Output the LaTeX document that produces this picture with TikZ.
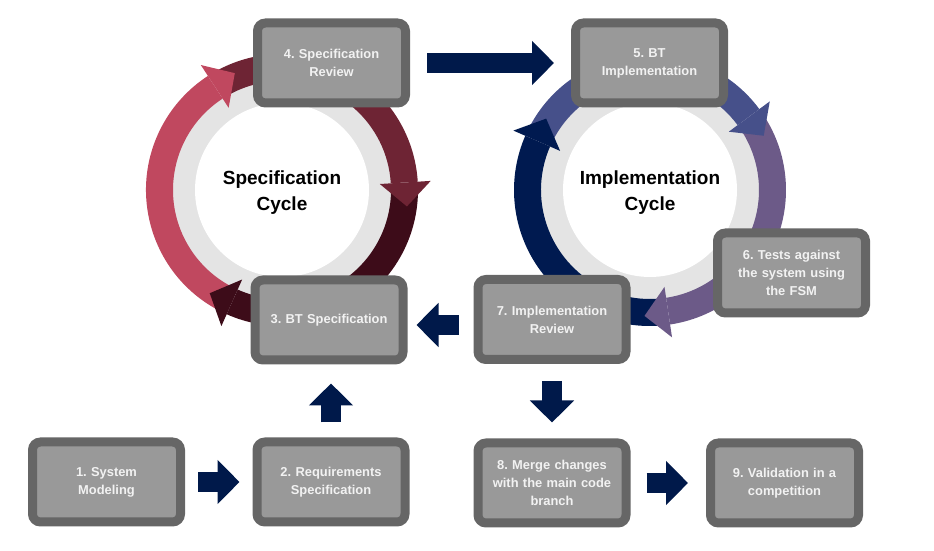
\documentclass[tikz,border=0pt]{standalone}
\usepackage{fontspec}
\setmainfont{Liberation Sans}
\usetikzlibrary{arrows.meta,calc}
\definecolor{pinkA}{HTML}{C0485F}
\definecolor{redA}{HTML}{6E2434}
\definecolor{darkA}{HTML}{3D0C19}
\definecolor{blueB}{HTML}{46508A}
\definecolor{purpB}{HTML}{6C5A88}
\definecolor{navyB}{HTML}{001A50}
\definecolor{navyArrow}{HTML}{00194A}
\definecolor{boxBorder}{HTML}{666666}
\definecolor{boxFill}{HTML}{999999}
\definecolor{boxText}{HTML}{F2F2F2}
\definecolor{ringGray}{HTML}{E4E4E4}
\newcommand{\ringseg}[4]{\fill[#2, shift={(#1)}] (#3:136pt) arc[start angle=#3, end angle=#4, radius=136pt] -- (#4:109pt) arc[start angle=#4, end angle=#3, radius=109pt] -- cycle;}
\newcommand{\ringhead}[4]{\fill[#2, shift={(#1)}] (#3:98pt) -- (#3:149pt) -- (#4:126pt) -- cycle;}
\tikzset{
  stepbox/.style={draw=boxBorder, line width=9pt, fill=boxFill, rounded corners=8pt,
    minimum width=148pt, minimum height=80pt, text width=140pt, inner sep=0pt,
    align=center, text=boxText, font=\fontsize{12.9}{18}\selectfont\bfseries\frenchspacing},
  cyclelabel/.style={align=center, text=black, font=\fontsize{19}{26}\selectfont\bfseries},
  blockarrow/.style={draw=navyArrow, line width=20pt, -{Triangle[length=22pt,width=43pt]}}
}
\begin{document}
\begin{tikzpicture}[x=1pt,y=1pt]
\useasboundingbox (0,0) rectangle (934,551);
\coordinate (L) at (282,361);
\coordinate (R) at (650,361);
% rings
\foreach \c in {L,R}{
  \fill[ringGray] (\c) circle[radius=112pt];
  \fill[white] (\c) circle[radius=87pt];
}
% left cycle bands
\ringseg{L}{pinkA}{242}{123}
\ringseg{L}{redA}{119}{3.5}
\ringseg{L}{darkA}{0}{-114}
% right cycle bands
\ringseg{R}{blueB}{153}{36.5}
\ringseg{R}{purpB}{33}{-81.5}
\ringseg{R}{navyB}{-85}{-203.5}
% heads
\ringhead{L}{pinkA}{123}{112}
\ringhead{L}{redA}{3.5}{-7.5}
\ringhead{L}{darkA}{-114}{-125}
\ringhead{R}{blueB}{36.5}{25.5}
\ringhead{R}{purpB}{-81.5}{-92.5}
\ringhead{R}{navyB}{-203.5}{-214.5}
% cycle labels
\node[cyclelabel] (lc) at ([yshift=-3pt]L) {Specification\\Cycle};
\node[cyclelabel] (rc) at ([yshift=-3pt]R) {Implementation\\Cycle};
% boxes
\node[stepbox] (B1) at (106.5,69) {1. System\\Modeling};
\node[stepbox] (B2) at (331,69) {2. Requirements\\Specification};
\node[stepbox] (B3) at (329,231) {3. BT Specification};
\node[stepbox] (B4) at (331.5,488) {4. Specification\\Review};
\node[stepbox] (B5) at (649.5,488) {5. BT\\Implementation};
\node[stepbox] (B6) at (791.5,278) {6. Tests against\\the system using\\the FSM};
\node[stepbox] (B7) at (552,231.5) {7. Implementation\\Review};
\node[stepbox] (B8) at (552,68) {8. Merge changes\\with the main code\\branch};
\node[stepbox] (B9) at (784.5,68) {9. Validation in a\\competition};
% block arrows
\draw[blockarrow, shorten <=13pt, shorten >=13pt] (B1.east) -- (B2.west);
\draw[blockarrow, shorten <=15pt, shorten >=19pt] (B2.north) -- (B2.north |- B3.south);
\draw[blockarrow, shorten <=17pt, shorten >=17pt] (B4.east) -- (B5.west);
\draw[blockarrow, shorten <=15pt, shorten >=9pt] ([yshift=-5.5pt]B7.west) -- ([yshift=-5.5pt]B7.west -| B3.east);
\draw[blockarrow, shorten <=17pt, shorten >=16pt] (B7.south) -- (B7.south |- B8.north);
\draw[blockarrow, shorten <=16pt, shorten >=18pt] (B8.east) -- (B9.west);
\end{tikzpicture}
\end{document}
